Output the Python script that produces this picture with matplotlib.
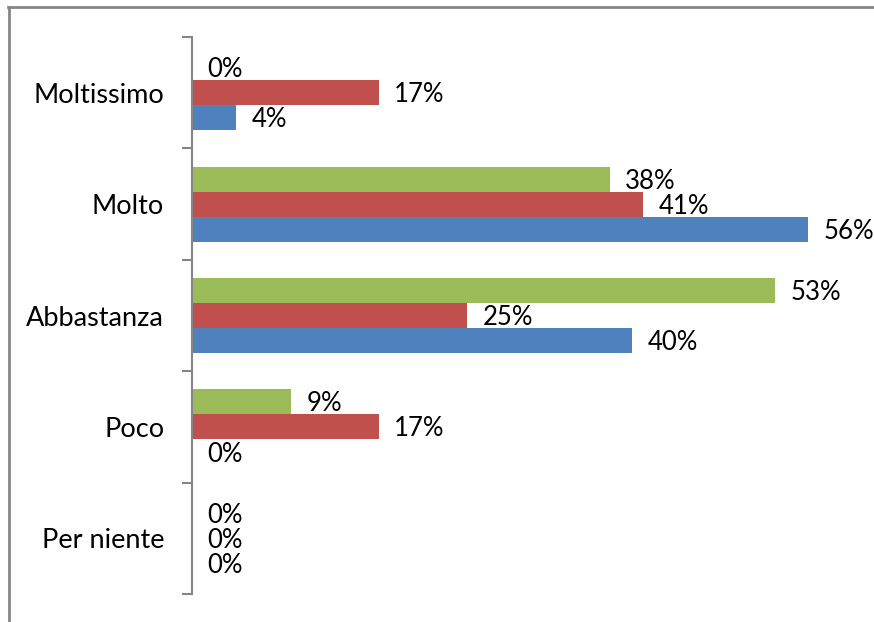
import numpy as np
import matplotlib.pyplot as plt
from matplotlib.lines import Line2D

# Categorie (dall'alto verso il basso) e serie
categorie = ['Moltissimo', 'Molto', 'Abbastanza', 'Poco', 'Per niente']
serie_blu = [4, 56, 40, 0, 0]
serie_rossa = [17, 41, 25, 17, 0]
serie_verde = [0, 38, 53, 9, 0]

colori = ['#4F81BD', '#C0504D', '#9BBB59']

W, H = 874, 622
fig = plt.figure(figsize=(W / 100, H / 100), dpi=100)
plt.rcParams['font.family'] = ['Lato', 'DejaVu Sans']

# area del grafico in pixel: x 192..(192+11*scala), y 37..594
x0, y_top, y_bot = 192, 37, 594
xmax = 62
x1 = x0 + 11 * xmax
ax = fig.add_axes([x0 / W, 1 - y_bot / H, (x1 - x0) / W, (y_bot - y_top) / H])

n = len(categorie)
pos = np.arange(n)[::-1]  # Moltissimo in alto
h = 0.225
for i, (vals, col) in enumerate(zip([serie_blu, serie_rossa, serie_verde], colori)):
    y = pos + (i - 1) * h
    ax.barh(y, vals, height=h, color=col, edgecolor='none')
    for yy, v in zip(y, vals):
        ax.annotate(f'{v}%', (v, yy), xytext=(11, -1.5), textcoords='offset points',
                    ha='left', va='center', fontsize=18.5)

ax.set_xlim(0, xmax)
ax.set_ylim(-0.5, n - 0.5)
ax.set_xticks([])
ax.set_yticks(pos)
ax.set_yticklabels(categorie, fontsize=19.5)
ax.set_yticks(np.arange(-0.5, n, 1), minor=True)
ax.tick_params(axis='y', which='major', length=0, pad=20)
ax.tick_params(axis='y', which='minor', length=7, color='#868686', width=1.5)
for s in ['top', 'right', 'bottom']:
    ax.spines[s].set_visible(False)
ax.spines['left'].set_color('#868686')
ax.spines['left'].set_linewidth(1.5)

# cornice del grafico (visibili solo lato superiore e sinistro)
fig.add_artist(Line2D([8.5 / W, 8.5 / W], [0, 1 - 7 / H], color='#868686', lw=2))
fig.add_artist(Line2D([8 / W, 1], [1 - 7 / H, 1 - 7 / H], color='#868686', lw=2))

fig.savefig('out.png', dpi=100)
